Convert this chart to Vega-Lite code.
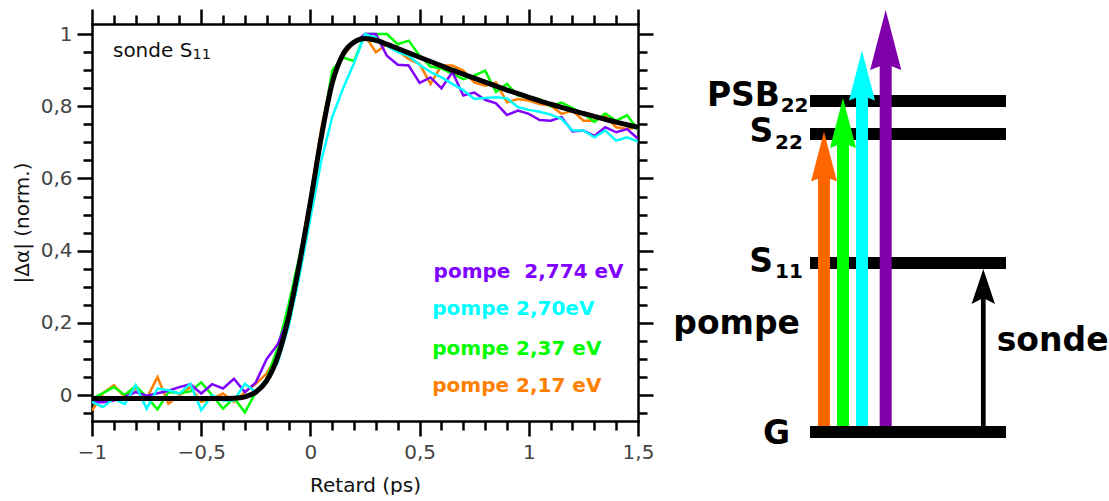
{
  "$schema": "https://vega.github.io/schema/vega-lite/v6.json",
  "padding": {"left": 12, "top": 7, "right": 0, "bottom": 0},
  "autosize": {"type": "pad"},
  "bounds": "flush",
  "spacing": 22,
  "resolve": {"scale": {"color": "independent"}},
  "config": {"view": {"stroke": null}, "font": "DejaVu Sans"},
  "datasets": {
    "traces": [
      {"series":"2,17","t":-1.00,"v":-0.043},{"series":"2,17","t":-0.95,"v":0.005},{"series":"2,17","t":-0.90,"v":0.027},{"series":"2,17","t":-0.85,"v":-0.005},{"series":"2,17","t":-0.80,"v":0.018},{"series":"2,17","t":-0.75,"v":-0.010},{"series":"2,17","t":-0.70,"v":0.050},{"series":"2,17","t":-0.65,"v":-0.024},{"series":"2,17","t":-0.60,"v":-0.001},{"series":"2,17","t":-0.55,"v":0.022},{"series":"2,17","t":-0.50,"v":-0.019},{"series":"2,17","t":-0.45,"v":-0.010},{"series":"2,17","t":-0.40,"v":0.004},{"series":"2,17","t":-0.35,"v":-0.019},{"series":"2,17","t":-0.30,"v":0.008},{"series":"2,17","t":-0.25,"v":0.031},{"series":"2,17","t":-0.20,"v":0.060},{"series":"2,17","t":-0.15,"v":0.115},{"series":"2,17","t":-0.10,"v":0.225},{"series":"2,17","t":-0.05,"v":0.375},{"series":"2,17","t":0.00,"v":0.550},{"series":"2,17","t":0.05,"v":0.740},{"series":"2,17","t":0.10,"v":0.885},{"series":"2,17","t":0.15,"v":0.940},{"series":"2,17","t":0.20,"v":0.977},{"series":"2,17","t":0.25,"v":0.995},{"series":"2,17","t":0.30,"v":0.950},{"series":"2,17","t":0.35,"v":0.972},{"series":"2,17","t":0.40,"v":0.954},{"series":"2,17","t":0.45,"v":0.931},{"series":"2,17","t":0.50,"v":0.917},{"series":"2,17","t":0.55,"v":0.862},{"series":"2,17","t":0.60,"v":0.913},{"series":"2,17","t":0.65,"v":0.913},{"series":"2,17","t":0.70,"v":0.899},{"series":"2,17","t":0.75,"v":0.866},{"series":"2,17","t":0.80,"v":0.857},{"series":"2,17","t":0.85,"v":0.866},{"series":"2,17","t":0.90,"v":0.811},{"series":"2,17","t":0.95,"v":0.820},{"series":"2,17","t":1.00,"v":0.816},{"series":"2,17","t":1.05,"v":0.806},{"series":"2,17","t":1.10,"v":0.802},{"series":"2,17","t":1.15,"v":0.779},{"series":"2,17","t":1.20,"v":0.788},{"series":"2,17","t":1.25,"v":0.760},{"series":"2,17","t":1.30,"v":0.760},{"series":"2,17","t":1.35,"v":0.774},{"series":"2,17","t":1.40,"v":0.742},{"series":"2,17","t":1.45,"v":0.737},{"series":"2,17","t":1.50,"v":0.742},
      {"series":"2,37","t":-1.00,"v":-0.010},{"series":"2,37","t":-0.95,"v":0.005},{"series":"2,37","t":-0.90,"v":0.022},{"series":"2,37","t":-0.85,"v":0.000},{"series":"2,37","t":-0.80,"v":0.025},{"series":"2,37","t":-0.75,"v":-0.005},{"series":"2,37","t":-0.70,"v":-0.040},{"series":"2,37","t":-0.65,"v":0.008},{"series":"2,37","t":-0.60,"v":0.005},{"series":"2,37","t":-0.55,"v":0.010},{"series":"2,37","t":-0.50,"v":0.035},{"series":"2,37","t":-0.45,"v":0.000},{"series":"2,37","t":-0.40,"v":-0.038},{"series":"2,37","t":-0.35,"v":-0.008},{"series":"2,37","t":-0.30,"v":-0.048},{"series":"2,37","t":-0.25,"v":0.008},{"series":"2,37","t":-0.20,"v":0.045},{"series":"2,37","t":-0.15,"v":0.130},{"series":"2,37","t":-0.10,"v":0.250},{"series":"2,37","t":-0.05,"v":0.385},{"series":"2,37","t":0.00,"v":0.535},{"series":"2,37","t":0.05,"v":0.720},{"series":"2,37","t":0.10,"v":0.900},{"series":"2,37","t":0.15,"v":0.935},{"series":"2,37","t":0.20,"v":0.925},{"series":"2,37","t":0.25,"v":1.000},{"series":"2,37","t":0.30,"v":1.000},{"series":"2,37","t":0.35,"v":1.000},{"series":"2,37","t":0.40,"v":0.972},{"series":"2,37","t":0.45,"v":0.982},{"series":"2,37","t":0.50,"v":0.940},{"series":"2,37","t":0.55,"v":0.910},{"series":"2,37","t":0.60,"v":0.905},{"series":"2,37","t":0.65,"v":0.890},{"series":"2,37","t":0.70,"v":0.875},{"series":"2,37","t":0.75,"v":0.885},{"series":"2,37","t":0.80,"v":0.899},{"series":"2,37","t":0.85,"v":0.840},{"series":"2,37","t":0.90,"v":0.862},{"series":"2,37","t":0.95,"v":0.830},{"series":"2,37","t":1.00,"v":0.825},{"series":"2,37","t":1.05,"v":0.820},{"series":"2,37","t":1.10,"v":0.800},{"series":"2,37","t":1.15,"v":0.810},{"series":"2,37","t":1.20,"v":0.795},{"series":"2,37","t":1.25,"v":0.780},{"series":"2,37","t":1.30,"v":0.757},{"series":"2,37","t":1.35,"v":0.780},{"series":"2,37","t":1.40,"v":0.760},{"series":"2,37","t":1.45,"v":0.775},{"series":"2,37","t":1.50,"v":0.735},
      {"series":"2,774","t":-1.00,"v":-0.020},{"series":"2,774","t":-0.95,"v":-0.020},{"series":"2,774","t":-0.90,"v":-0.015},{"series":"2,774","t":-0.85,"v":-0.005},{"series":"2,774","t":-0.80,"v":0.008},{"series":"2,774","t":-0.75,"v":-0.002},{"series":"2,774","t":-0.70,"v":0.005},{"series":"2,774","t":-0.65,"v":0.012},{"series":"2,774","t":-0.60,"v":0.022},{"series":"2,774","t":-0.55,"v":0.030},{"series":"2,774","t":-0.50,"v":0.004},{"series":"2,774","t":-0.45,"v":0.030},{"series":"2,774","t":-0.40,"v":0.018},{"series":"2,774","t":-0.35,"v":0.045},{"series":"2,774","t":-0.30,"v":0.008},{"series":"2,774","t":-0.25,"v":0.035},{"series":"2,774","t":-0.20,"v":0.100},{"series":"2,774","t":-0.15,"v":0.140},{"series":"2,774","t":-0.10,"v":0.215},{"series":"2,774","t":-0.05,"v":0.360},{"series":"2,774","t":0.00,"v":0.530},{"series":"2,774","t":0.05,"v":0.710},{"series":"2,774","t":0.10,"v":0.870},{"series":"2,774","t":0.15,"v":0.952},{"series":"2,774","t":0.20,"v":0.975},{"series":"2,774","t":0.25,"v":1.000},{"series":"2,774","t":0.30,"v":1.000},{"series":"2,774","t":0.35,"v":0.940},{"series":"2,774","t":0.40,"v":0.915},{"series":"2,774","t":0.45,"v":0.913},{"series":"2,774","t":0.50,"v":0.865},{"series":"2,774","t":0.55,"v":0.880},{"series":"2,774","t":0.60,"v":0.850},{"series":"2,774","t":0.65,"v":0.895},{"series":"2,774","t":0.70,"v":0.830},{"series":"2,774","t":0.75,"v":0.838},{"series":"2,774","t":0.80,"v":0.818},{"series":"2,774","t":0.85,"v":0.808},{"series":"2,774","t":0.90,"v":0.776},{"series":"2,774","t":0.95,"v":0.788},{"series":"2,774","t":1.00,"v":0.779},{"series":"2,774","t":1.05,"v":0.762},{"series":"2,774","t":1.10,"v":0.760},{"series":"2,774","t":1.15,"v":0.770},{"series":"2,774","t":1.20,"v":0.730},{"series":"2,774","t":1.25,"v":0.733},{"series":"2,774","t":1.30,"v":0.718},{"series":"2,774","t":1.35,"v":0.742},{"series":"2,774","t":1.40,"v":0.728},{"series":"2,774","t":1.45,"v":0.737},{"series":"2,774","t":1.50,"v":0.710},
      {"series":"2,70","t":-1.00,"v":-0.019},{"series":"2,70","t":-0.95,"v":-0.033},{"series":"2,70","t":-0.90,"v":-0.010},{"series":"2,70","t":-0.85,"v":-0.025},{"series":"2,70","t":-0.80,"v":0.027},{"series":"2,70","t":-0.75,"v":-0.038},{"series":"2,70","t":-0.70,"v":0.018},{"series":"2,70","t":-0.65,"v":0.013},{"series":"2,70","t":-0.60,"v":0.004},{"series":"2,70","t":-0.55,"v":0.031},{"series":"2,70","t":-0.50,"v":-0.042},{"series":"2,70","t":-0.45,"v":-0.001},{"series":"2,70","t":-0.40,"v":-0.015},{"series":"2,70","t":-0.35,"v":-0.015},{"series":"2,70","t":-0.30,"v":0.031},{"series":"2,70","t":-0.25,"v":0.008},{"series":"2,70","t":-0.20,"v":0.045},{"series":"2,70","t":-0.15,"v":0.090},{"series":"2,70","t":-0.10,"v":0.190},{"series":"2,70","t":-0.05,"v":0.330},{"series":"2,70","t":0.00,"v":0.490},{"series":"2,70","t":0.05,"v":0.650},{"series":"2,70","t":0.10,"v":0.770},{"series":"2,70","t":0.15,"v":0.850},{"series":"2,70","t":0.20,"v":0.920},{"series":"2,70","t":0.25,"v":1.000},{"series":"2,70","t":0.30,"v":0.990},{"series":"2,70","t":0.35,"v":0.967},{"series":"2,70","t":0.40,"v":0.950},{"series":"2,70","t":0.45,"v":0.940},{"series":"2,70","t":0.50,"v":0.915},{"series":"2,70","t":0.55,"v":0.895},{"series":"2,70","t":0.60,"v":0.880},{"series":"2,70","t":0.65,"v":0.862},{"series":"2,70","t":0.70,"v":0.845},{"series":"2,70","t":0.75,"v":0.820},{"series":"2,70","t":0.80,"v":0.823},{"series":"2,70","t":0.85,"v":0.825},{"series":"2,70","t":0.90,"v":0.822},{"series":"2,70","t":0.95,"v":0.798},{"series":"2,70","t":1.00,"v":0.790},{"series":"2,70","t":1.05,"v":0.785},{"series":"2,70","t":1.10,"v":0.777},{"series":"2,70","t":1.15,"v":0.765},{"series":"2,70","t":1.20,"v":0.733},{"series":"2,70","t":1.25,"v":0.733},{"series":"2,70","t":1.30,"v":0.714},{"series":"2,70","t":1.35,"v":0.733},{"series":"2,70","t":1.40,"v":0.705},{"series":"2,70","t":1.45,"v":0.714},{"series":"2,70","t":1.50,"v":0.702}
    ],
    "fit": [
      {"t":-1.00,"v":-0.010},{"t":-0.70,"v":-0.010},{"t":-0.40,"v":-0.010},{"t":-0.35,"v":-0.009},{"t":-0.30,"v":-0.005},{"t":-0.25,"v":0.008},{"t":-0.20,"v":0.040},{"t":-0.15,"v":0.105},{"t":-0.10,"v":0.215},{"t":-0.05,"v":0.365},{"t":0.00,"v":0.535},{"t":0.05,"v":0.715},{"t":0.10,"v":0.865},{"t":0.15,"v":0.945},{"t":0.20,"v":0.978},{"t":0.25,"v":0.988},{"t":0.30,"v":0.983},{"t":0.35,"v":0.972},{"t":0.40,"v":0.960},{"t":0.45,"v":0.948},{"t":0.50,"v":0.936},{"t":0.55,"v":0.924},{"t":0.60,"v":0.912},{"t":0.65,"v":0.900},{"t":0.70,"v":0.889},{"t":0.75,"v":0.878},{"t":0.80,"v":0.867},{"t":0.85,"v":0.856},{"t":0.90,"v":0.845},{"t":0.95,"v":0.835},{"t":1.00,"v":0.825},{"t":1.05,"v":0.815},{"t":1.10,"v":0.806},{"t":1.15,"v":0.797},{"t":1.20,"v":0.788},{"t":1.25,"v":0.780},{"t":1.30,"v":0.772},{"t":1.35,"v":0.764},{"t":1.40,"v":0.756},{"t":1.45,"v":0.749},{"t":1.50,"v":0.742}
    ],
    "plotlabels": [
      {"t":0.564,"v":0.324,"label":"pompe\u00a0 2,774 eV","series":"2,774"},
      {"t":0.558,"v":0.2206,"label":"pompe 2,70eV","series":"2,70"},
      {"t":0.558,"v":0.110,"label":"pompe 2,37 eV","series":"2,37"},
      {"t":0.558,"v":0.0083,"label":"pompe 2,17 eV","series":"2,17"}
    ],
    "plotnote": [
      {"t":-0.904,"v":0.9375,"label":"sonde S","kind":"main"},
      {"t":-0.540,"v":0.930,"label":"11","kind":"sub"}
    ],
    "levels": [
      {"lvl":"PSB22","e":3.31,"x0":1.5,"x1":3.46},
      {"lvl":"S22","e":2.98,"x0":1.5,"x1":3.46},
      {"lvl":"S11","e":1.69,"x0":1.5,"x1":3.46},
      {"lvl":"G","e":0.0,"x0":1.5,"x1":3.46}
    ],
    "arrows": [
      {"name":"a217","x":1.64,"y0":0.06,"tip":3.004},
      {"name":"a237","x":1.83,"y0":0.06,"tip":3.34},
      {"name":"a270","x":2.02,"y0":0.06,"tip":3.814},
      {"name":"a2774","x":2.257,"y0":0.06,"tip":4.22},
      {"name":"sonde","x":3.233,"y0":0.06,"tip":1.63}
    ],
    "dtext": [
      {"label":"PSB","x":1.20,"y":3.257,"side":"r"},
      {"label":"22","x":1.207,"y":3.197,"side":"sub"},
      {"label":"S","x":1.133,"y":2.897,"side":"r"},
      {"label":"22","x":1.15,"y":2.83,"side":"sub"},
      {"label":"S","x":1.13,"y":1.597,"side":"r"},
      {"label":"11","x":1.15,"y":1.537,"side":"sub"},
      {"label":"G","x":1.30,"y":-0.123,"side":"r"},
      {"label":"pompe","x":1.40,"y":0.98,"side":"r"},
      {"label":"sonde","x":3.367,"y":0.814,"side":"l"}
    ]
  },
  "hconcat": [
    {
      "width": 546,
      "height": 397,
      "resolve": {"axis": {"x": "independent", "y": "independent"}},
      "layer": [
        {
          "data": {"name": "traces"},
          "mark": {"type": "line", "strokeWidth": 2.5, "clip": true},
          "encoding": {
            "x": {"field": "t", "type": "quantitative",
              "scale": {"domain": [-1, 1.5], "nice": false, "zero": false},
              "axis": {"orient": "bottom",
                "values": [-1,-0.9,-0.8,-0.7,-0.6,-0.5,-0.4,-0.3,-0.2,-0.1,0,0.1,0.2,0.3,0.4,0.5,0.6,0.7,0.8,0.9,1,1.1,1.2,1.3,1.4,1.5],
                "format": ".2~f",
                "labelExpr": "abs(datum.value*2-round(datum.value*2))<0.001 ? replace(datum.label, '.', ',') : ''",
                "tickSize": {"condition": {"test": "abs(datum.value*2-round(datum.value*2))<0.001", "value": 15}, "value": 9},
                "tickWidth": 2.5, "tickColor": "black",
                "domainColor": "black", "domainWidth": 2.5, "domainCap": "square",
                "labelFontSize": 20, "labelColor": "#444444", "labelPadding": 6,
                "labelFlush": false, "labelOverlap": false, "labelBound": false,
                "title": "Retard (ps)", "titleFontSize": 20, "titleFontWeight": "normal", "titleColor": "#111111", "titlePadding": 13,
                "grid": false}},
            "y": {"field": "v", "type": "quantitative",
              "scale": {"domain": [-0.072, 1.028], "nice": false, "zero": false},
              "axis": {"orient": "left",
                "values": [-0.05,0,0.05,0.1,0.15,0.2,0.25,0.3,0.35,0.4,0.45,0.5,0.55,0.6,0.65,0.7,0.75,0.8,0.85,0.9,0.95,1],
                "format": ".2~f",
                "labelExpr": "abs(datum.value*5-round(datum.value*5))<0.001 ? replace(datum.label, '.', ',') : ''",
                "tickSize": {"condition": {"test": "abs(datum.value*5-round(datum.value*5))<0.001", "value": 15}, "value": 9},
                "tickWidth": 2.5, "tickColor": "black",
                "domainColor": "black", "domainWidth": 2.5, "domainCap": "square",
                "labelFontSize": 20, "labelColor": "#444444", "labelPadding": 5,
                "labelFlush": false, "labelOverlap": false, "labelBound": false,
                "title": "|Δα| (norm.)", "titleFontSize": 20, "titleFontWeight": "normal", "titleColor": "#111111", "titlePadding": 8,
                "grid": false}},
            "color": {"field": "series", "type": "nominal",
              "scale": {"domain": ["2,774", "2,70", "2,37", "2,17"], "range": ["#8000ff", "#00ffff", "#00ff00", "#ff8000"]},
              "legend": null}
          }
        },
        {
          "data": {"name": "fit"},
          "mark": {"type": "line", "color": "black", "strokeWidth": 5, "interpolate": "monotone"},
          "encoding": {
            "x": {"field": "t", "type": "quantitative",
              "scale": {"domain": [-1, 1.5], "nice": false, "zero": false},
              "axis": {"orient": "top",
                "values": [-1,-0.9,-0.8,-0.7,-0.6,-0.5,-0.4,-0.3,-0.2,-0.1,0,0.1,0.2,0.3,0.4,0.5,0.6,0.7,0.8,0.9,1,1.1,1.2,1.3,1.4,1.5],
                "labels": false, "title": null,
                "tickSize": {"condition": {"test": "abs(datum.value*2-round(datum.value*2))<0.001", "value": 15}, "value": 9},
                "tickWidth": 2.5, "tickColor": "black",
                "domainColor": "black", "domainWidth": 2.5, "domainCap": "square", "grid": false}},
            "y": {"field": "v", "type": "quantitative",
              "scale": {"domain": [-0.072, 1.028], "nice": false, "zero": false},
              "axis": {"orient": "right",
                "values": [-0.05,0,0.05,0.1,0.15,0.2,0.25,0.3,0.35,0.4,0.45,0.5,0.55,0.6,0.65,0.7,0.75,0.8,0.85,0.9,0.95,1],
                "labels": false, "title": null,
                "tickSize": {"condition": {"test": "abs(datum.value*5-round(datum.value*5))<0.001", "value": 15}, "value": 9},
                "tickWidth": 2.5, "tickColor": "black",
                "domainColor": "black", "domainWidth": 2.5, "domainCap": "square", "grid": false}}
          }
        },
        {
          "data": {"name": "plotlabels"},
          "mark": {"type": "text", "fontSize": 20, "fontWeight": "bold", "align": "left", "baseline": "alphabetic"},
          "encoding": {
            "x": {"field": "t", "type": "quantitative", "scale": {"domain": [-1, 1.5], "nice": false, "zero": false}, "axis": null},
            "y": {"field": "v", "type": "quantitative", "scale": {"domain": [-0.072, 1.028], "nice": false, "zero": false}, "axis": null},
            "text": {"field": "label"},
            "color": {"field": "series", "type": "nominal", "legend": null}
          }
        },
        {
          "data": {"name": "plotnote"},
          "transform": [{"filter": "datum.kind == 'main'"}],
          "mark": {"type": "text", "fontSize": 20, "align": "left", "baseline": "alphabetic", "color": "#111111"},
          "encoding": {
            "x": {"field": "t", "type": "quantitative", "scale": {"domain": [-1, 1.5], "nice": false, "zero": false}, "axis": null},
            "y": {"field": "v", "type": "quantitative", "scale": {"domain": [-0.072, 1.028], "nice": false, "zero": false}, "axis": null},
            "text": {"field": "label"}
          }
        },
        {
          "data": {"name": "plotnote"},
          "transform": [{"filter": "datum.kind == 'sub'"}],
          "mark": {"type": "text", "fontSize": 14.5, "align": "left", "baseline": "alphabetic", "color": "#111111"},
          "encoding": {
            "x": {"field": "t", "type": "quantitative", "scale": {"domain": [-1, 1.5], "nice": false, "zero": false}, "axis": null},
            "y": {"field": "v", "type": "quantitative", "scale": {"domain": [-0.072, 1.028], "nice": false, "zero": false}, "axis": null},
            "text": {"field": "label"}
          }
        }
      ]
    },
    {
      "width": 449,
      "height": 425,
      "layer": [
        {
          "data": {"name": "levels"},
          "mark": {"type": "rule", "strokeWidth": 12, "color": "black", "strokeCap": "butt"},
          "encoding": {
            "x": {"field": "x0", "type": "quantitative", "scale": {"domain": [0, 4.49], "nice": false, "zero": false}, "axis": null},
            "x2": {"field": "x1"},
            "y": {"field": "e", "type": "quantitative", "scale": {"domain": [-0.17, 4.08], "nice": false, "zero": false}, "axis": null}
          }
        },
        {
          "data": {"name": "arrows"},
          "transform": [{"filter": "datum.name != 'sonde'"}],
          "mark": {"type": "rule", "strokeWidth": 12, "strokeCap": "butt", "y2Offset": 30},
          "encoding": {
            "x": {"field": "x", "type": "quantitative", "scale": {"domain": [0, 4.49], "nice": false, "zero": false}, "axis": null},
            "y": {"field": "y0", "type": "quantitative", "scale": {"domain": [-0.17, 4.08], "nice": false, "zero": false}, "axis": null},
            "y2": {"field": "tip"},
            "color": {"field": "name", "type": "nominal", "scale": {"domain": ["a217", "a237", "a270", "a2774"], "range": ["#ff6600", "#00ff00", "#00ffff", "#7f00aa"]}, "legend": null}
          }
        },
        {
          "data": {"name": "arrows"},
          "transform": [{"filter": "datum.name != 'sonde' && datum.name != 'a2774'"}],
          "mark": {"type": "point", "shape": "M0,0L0.433,1.667L0,1.5L-0.433,1.667Z", "size": 3600, "filled": true, "opacity": 1, "strokeWidth": 0},
          "encoding": {
            "x": {"field": "x", "type": "quantitative", "scale": {"domain": [0, 4.49], "nice": false, "zero": false}, "axis": null},
            "y": {"field": "tip", "type": "quantitative", "scale": {"domain": [-0.17, 4.08], "nice": false, "zero": false}, "axis": null},
            "color": {"field": "name", "type": "nominal", "legend": null}
          }
        },
        {
          "data": {"name": "arrows"},
          "transform": [{"filter": "datum.name == 'a2774'"}],
          "mark": {"type": "point", "shape": "M0,0L0.433,1.667L0,1.5L-0.433,1.667Z", "size": 5184, "filled": true, "opacity": 1, "strokeWidth": 0},
          "encoding": {
            "x": {"field": "x", "type": "quantitative", "scale": {"domain": [0, 4.49], "nice": false, "zero": false}, "axis": null},
            "y": {"field": "tip", "type": "quantitative", "scale": {"domain": [-0.17, 4.08], "nice": false, "zero": false}, "axis": null},
            "color": {"field": "name", "type": "nominal", "legend": null}
          }
        },
        {
          "data": {"name": "arrows"},
          "transform": [{"filter": "datum.name == 'sonde'"}],
          "mark": {"type": "rule", "strokeWidth": 4.7, "strokeCap": "butt", "color": "black", "y2Offset": 20},
          "encoding": {
            "x": {"field": "x", "type": "quantitative", "scale": {"domain": [0, 4.49], "nice": false, "zero": false}, "axis": null},
            "y": {"field": "y0", "type": "quantitative", "scale": {"domain": [-0.17, 4.08], "nice": false, "zero": false}, "axis": null},
            "y2": {"field": "tip"}
          }
        },
        {
          "data": {"name": "arrows"},
          "transform": [{"filter": "datum.name == 'sonde'"}],
          "mark": {"type": "point", "shape": "M0,0L0.39,1.167L0,0.97L-0.39,1.167Z", "size": 3600, "filled": true, "opacity": 1, "strokeWidth": 0, "color": "black"},
          "encoding": {
            "x": {"field": "x", "type": "quantitative", "scale": {"domain": [0, 4.49], "nice": false, "zero": false}, "axis": null},
            "y": {"field": "tip", "type": "quantitative", "scale": {"domain": [-0.17, 4.08], "nice": false, "zero": false}, "axis": null}
          }
        },
        {
          "data": {"name": "dtext"},
          "transform": [{"filter": "datum.side == 'r'"}],
          "mark": {"type": "text", "fontSize": 33, "fontWeight": "bold", "align": "right", "baseline": "alphabetic", "color": "black"},
          "encoding": {
            "x": {"field": "x", "type": "quantitative", "scale": {"domain": [0, 4.49], "nice": false, "zero": false}, "axis": null},
            "y": {"field": "y", "type": "quantitative", "scale": {"domain": [-0.17, 4.08], "nice": false, "zero": false}, "axis": null},
            "text": {"field": "label"}
          }
        },
        {
          "data": {"name": "dtext"},
          "transform": [{"filter": "datum.side == 'sub'"}],
          "mark": {"type": "text", "fontSize": 20, "fontWeight": "bold", "align": "left", "baseline": "alphabetic", "color": "black"},
          "encoding": {
            "x": {"field": "x", "type": "quantitative", "scale": {"domain": [0, 4.49], "nice": false, "zero": false}, "axis": null},
            "y": {"field": "y", "type": "quantitative", "scale": {"domain": [-0.17, 4.08], "nice": false, "zero": false}, "axis": null},
            "text": {"field": "label"}
          }
        },
        {
          "data": {"name": "dtext"},
          "transform": [{"filter": "datum.side == 'l'"}],
          "mark": {"type": "text", "fontSize": 33, "fontWeight": "bold", "align": "left", "baseline": "alphabetic", "color": "black"},
          "encoding": {
            "x": {"field": "x", "type": "quantitative", "scale": {"domain": [0, 4.49], "nice": false, "zero": false}, "axis": null},
            "y": {"field": "y", "type": "quantitative", "scale": {"domain": [-0.17, 4.08], "nice": false, "zero": false}, "axis": null},
            "text": {"field": "label"}
          }
        }
      ]
    }
  ]
}
